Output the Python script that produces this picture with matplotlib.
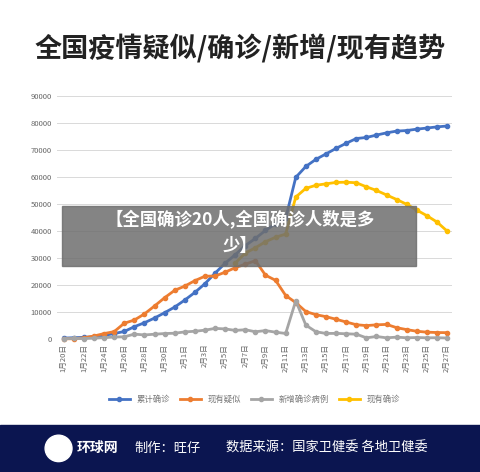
import numpy as np
import matplotlib.pyplot as plt
from matplotlib.patches import Rectangle, Circle

plt.rcParams['font.family'] = ['Noto Sans CJK SC', 'DejaVu Sans']

dates = ['1月20日', '1月21日', '1月22日', '1月23日', '1月24日', '1月25日', '1月26日', '1月27日',
         '1月28日', '1月29日', '1月30日', '1月31日', '2月1日', '2月2日', '2月3日', '2月4日',
         '2月5日', '2月6日', '2月7日', '2月8日', '2月9日', '2月10日', '2月11日', '2月12日',
         '2月13日', '2月14日', '2月15日', '2月16日', '2月17日', '2月18日', '2月19日', '2月20日',
         '2月21日', '2月22日', '2月23日', '2月24日', '2月25日', '2月26日', '2月27日']

total_confirmed = [291, 440, 571, 830, 1287, 1975, 2744, 4515, 5974, 7711, 9692, 11791, 14380,
                   17205, 20438, 24324, 28018, 31161, 34546, 37198, 40171, 42638, 44653, 59804,
                   63851, 66492, 68500, 70548, 72436, 74185, 74576, 75465, 76288, 76936, 77150,
                   77658, 78064, 78497, 78824]
suspected = [54, 37, 393, 1072, 1965, 2684, 5794, 6973, 9239, 12167, 15238, 17988, 19544, 21558,
             23214, 23260, 24702, 26359, 27657, 28942, 23589, 21675, 16067, 13435, 10109, 8969,
             8228, 7264, 6242, 5248, 4922, 5206, 5365, 4148, 3434, 2824, 2491, 2358, 2308]
new_confirmed = [77, 149, 131, 259, 444, 688, 769, 1771, 1459, 1737, 1981, 2099, 2590, 2829, 3235,
                 3887, 3694, 3143, 3385, 2652, 3073, 2478, 2015, 14108, 5090, 2641, 2009, 2048,
                 1886, 1749, 394, 889, 397, 648, 409, 508, 406, 433, 327]
current_confirmed = [np.nan] * 17 + [28060, 31774, 33738, 35982, 37626, 38800, 52526, 55748, 56873,
                                     57416, 57934, 58016, 57805, 56303, 54965, 53284, 51606, 49824,
                                     47672, 45604, 43258, 39919]

series = [('累计确诊', total_confirmed, '#4472C4'),
          ('现有疑似', suspected, '#ED7D31'),
          ('新增确诊病例', new_confirmed, '#A5A5A5'),
          ('现有确诊', current_confirmed, '#FFC000')]

fig = plt.figure(figsize=(4.8, 4.72), dpi=100)
ax = fig.add_axes([0.118, 0.282, 0.824, 0.515])
x = np.arange(len(dates))
for name, vals, col in series:
    ax.plot(x, vals, color=col, lw=2, marker='o', ms=3, label=name, clip_on=False)

ax.set_ylim(0, 90000)
ax.set_xlim(-0.7, 38.5)
ax.set_yticks(range(0, 90001, 10000))
ax.tick_params(axis='y', labelsize=5.5, colors='#666666', length=0)
ax.set_xticks(x[::2])
ax.set_xticklabels(dates[::2], rotation=90, fontsize=5.5, color='#666666')
ax.tick_params(axis='x', length=0)
ax.grid(axis='y', color='#d9d9d9', lw=0.7)
for s in ax.spines.values():
    s.set_visible(False)
ax.axhline(0, color='#d9d9d9', lw=0.7)

ax.legend(loc='upper center', bbox_to_anchor=(0.5, -0.2), ncol=4, frameon=False,
          fontsize=6, labelcolor='#777777', handlelength=2.5, columnspacing=1.2)

fig.text(0.5, 0.897, '全国疫情疑似/确诊/新增/现有趋势', ha='center', va='center',
         fontsize=19.5, fontweight='bold', color='#222222')

# overlay banner
fig.patches.append(Rectangle((0.129, 0.437), 0.738, 0.127, transform=fig.transFigure,
                             color='#6e6e6e', alpha=0.85))
fig.text(0.5, 0.534, '【全国确诊20人,全国确诊人数是多', ha='center', va='center',
         fontsize=12.5, fontweight='bold', color='white')
fig.text(0.5, 0.478, '少】', ha='center', va='center', fontsize=12.5, fontweight='bold', color='white')

# footer
fig.patches.append(Rectangle((0, 0), 1, 0.1, transform=fig.transFigure, color='#0b1550'))
fig.patches.append(Circle((0.122, 0.05), 0.028, transform=fig.transFigure, color='white'))
fig.text(0.16, 0.05, '环球网', va='center', fontsize=10, fontweight='bold', color='white')
fig.text(0.28, 0.05, '制作：旺仔', va='center', fontsize=9.5, color='white')
fig.text(0.47, 0.05, '数据来源：国家卫健委 各地卫健委', va='center', fontsize=9.5, color='white')

fig.savefig('out.png', dpi=100)
